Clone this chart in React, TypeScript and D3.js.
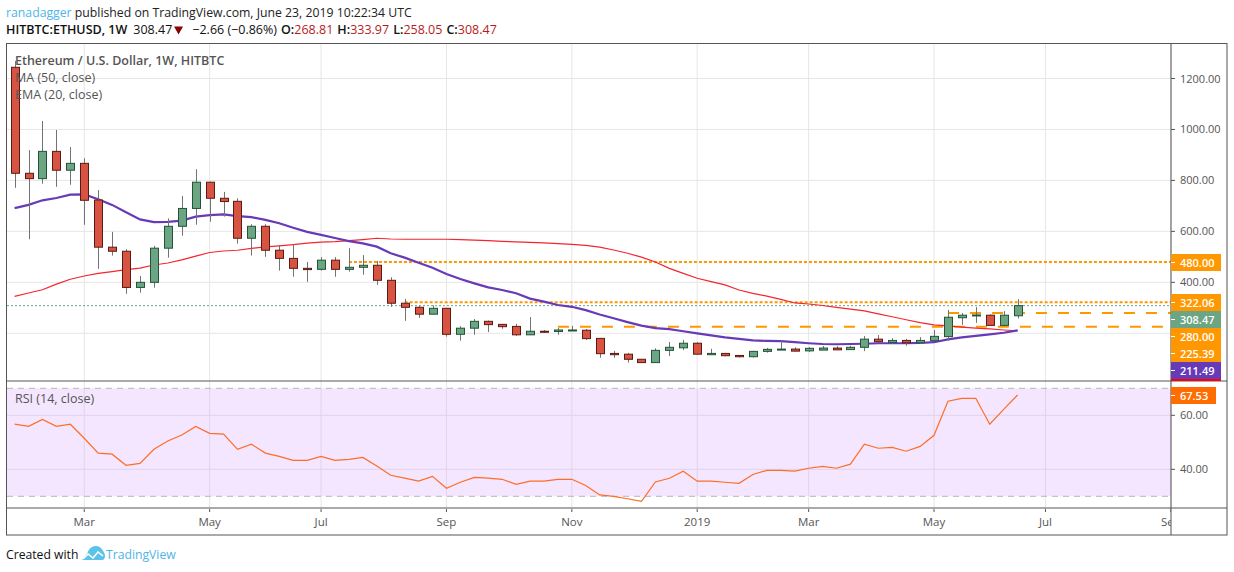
import * as d3 from 'd3';

// weekly candles, index 0 is the week of Jan 29 2018
const opens = [1244,828,807,914,840,867,723,538,522,380,400,534,620,690,793,730,718,573,620,526,494,455,451,487,451,459,467,408,318,302,275,298,196,220,247,235,227,194,208,207,211,212,180,121,118,98,85,133,143,161,116,121,113,108,129,137,138,131,134,142,136,145,177,164,172,163,171,187,261,270,271,231,268.81];
const highs = [1269,919,1033,998,931,887,762,598,530,425,543,651,739,844,795,755,730,628,628,545,549,480,499,499,534,507,484,420,335,308,310,300,228,256,250,237,237,264,213,221,229,217,181,131,123,99,141,166,174,165,139,123,114,131,142,172,145,146,150,149,151,189,193,181,178,185,213,292,280,303,274,287,333.97];
const lows = [771,569,787,775,783,626,453,505,355,359,379,497,583,626,638,658,552,505,500,446,422,402,446,422,442,430,390,304,249,260,274,187,171,194,205,218,190,194,202,194,211,174,104,104,85,84,84,111,134,117,115,110,105,105,124,136,129,126,134,135,135,130,161,158,151,158,170,171,233,241,231,228,258.05];
const closes = [828,807,914,840,867,722,538,522,380,400,534,620,690,793,730,717,573,620,526,494,455,450,487,451,459,467,408,318,302,275,298,196,220,247,234,226,194,208,207,213,213,179,120,116,98,85,133,145,161,118,121,112,108,129,137,138,130,141,142,135,145,177,167,172,163,172,188,263,271,272,231,271,308.47];
const ma50 = [345,358,371,393,412,425,435,442,450,456,468,476,488,503,517,523,526,533,539,543,548,554,558,560,564,568,573,570,569,569,569,569,568,566,564,561,559,557,555,552,549,545,538,527,514,499,480,455,435,416,403,390,370,357,346,333,319,315,309,302,295,288,276,265,253,242,233,229,224,220,217,213,210];
const ema20 = [691,704,722,731,744,745,726,704,675,647,636,637,642,658,664,667,660,656,645,632,614,598,586,574,562,553,540,514,497,477,457,433,413,396,380,370,357,336,324,311,304,291,274,259,244,230,220,216,208,200,192,184,178,172,170,169,165,161,158,157,158,159,161,161,161,162,165,176,184,190,196,202,211.49];
const rsi = [56.7,55.9,58.5,55.9,56.7,51.5,46,45.6,41.5,42.2,47.4,50.5,52.7,55.9,53.3,53,47.4,49.3,46,44.8,43.3,43.3,44.8,43.3,43.7,44.4,41.2,37.8,36.7,35.6,37.4,33,35.2,37,36.7,36.3,34.4,35.6,35.6,36.3,36.3,34,30.5,30,29.1,28.1,35.3,36.7,39.3,35.6,35.6,35.2,34.8,38.1,39.6,39.6,39.3,40.4,41.1,40.4,41.9,49.3,47.8,48.1,46.7,48.5,52.6,65.2,66.3,66.3,56.7,62.2,67.53];

const priceGrid = [1200, 1000, 800, 600, 400, 200];
const priceLabels = [1200, 1000, 800, 600, 400];
const rsiTicks = [60, 40];
const rsiBands = [70, 30];
const timeTicks = ['Mar', 'May', 'Jul', 'Sep', 'Nov', '2019', 'Mar', 'May', 'Jul', 'Sep'];
const timeTickIdx = [5, 14, 22, 31, 40, 49, 57, 66, 74, 83];

const solidLevels = [480, 322.06];
const solidLevelStart = [24, 28];
const longDashLevels = [280, 225.39];
const longDashStart = [67, 39];

const lastPrice = closes[closes.length - 1];

const FONT = '"Open Sans", "Noto Sans", sans-serif';
const LEFT = 7;
const AXIS_X = 1171;
const RIGHT = 1227;

const x = d3.scaleLinear().domain([0, 72]).range([14.6, 1017.6]);
const y = d3.scaleLinear().domain([0, 1200]).range([384.25, 78.5]);
const yRsi = d3.scaleLinear().domain([30, 70]).range([496.3, 388.3]);

const maPath = d3.line<number>().x((_, i) => x(i)).y((d) => y(d))(ma50) as string;
const emaPath = d3.line<number>().x((_, i) => x(i)).y((d) => y(d))(ema20) as string;
const rsiPath = d3.line<number>().x((_, i) => x(i)).y((d) => yRsi(d))(rsi) as string;

const UP = '#6ba583';
const UP_BORDER = '#225437';
const DOWN = '#d75442';
const DOWN_BORDER = '#5b1a13';
const WICK = '#737375';
const ORANGE = '#ff9800';

// stacked price labels on the right scale
const stackedLabels = [
    { text: '480.00', top: 254, fill: ORANGE },
    { text: '322.06', top: 294, fill: ORANGE },
    { text: '308.47', top: 311, fill: UP },
    { text: '280.00', top: 328, fill: ORANGE },
    { text: '225.39', top: 345, fill: ORANGE },
    { text: '211.49', top: 362, fill: '#673ab7' },
];

function App() {
    return (
        <svg
            width={1234}
            height={572}
            style={{ position: 'absolute', left: 0, top: 0, background: '#fff' }}
            fontFamily={FONT}
        >
            <defs>
                <clipPath id="timeClip">
                    <rect x={LEFT} y={509} width={AXIS_X - LEFT} height={26} />
                </clipPath>
            </defs>

            {/* header */}
            <text x={6} y={17} fontSize={12.25} fill="#222">
                <tspan fill="#4db6e8">ranadagger</tspan> published on TradingView.com, June 23, 2019 10:22:34 UTC
            </text>
            <text x={6} y={34} fontSize={12.5} fill="#111">
                <tspan fontWeight={600}>HITBTC:ETHUSD, 1W</tspan>
                <tspan dx={6}>308.47</tspan>
                <tspan dx={20}>−2.66 (−0.86%)</tspan>
                <tspan dx={4} fontWeight={600}>O:</tspan>
                <tspan fill="#b71c1c">268.81</tspan>
                <tspan dx={4} fontWeight={600}>H:</tspan>
                <tspan fill="#b71c1c">333.97</tspan>
                <tspan dx={4} fontWeight={600}>L:</tspan>
                <tspan fill="#b71c1c">258.05</tspan>
                <tspan dx={4} fontWeight={600}>C:</tspan>
                <tspan fill="#b71c1c">308.47</tspan>
            </text>
            <path d="M174,26.5h9l-4.5,8z" fill="#8b0000" />

            {/* rsi background */}
            <rect x={LEFT} y={yRsi(70)} width={AXIS_X - LEFT} height={yRsi(30) - yRsi(70)} fill="#f4e6fe" />

            {/* grid */}
            {priceGrid.map((t) => (
                <line key={t} x1={LEFT} x2={AXIS_X} y1={y(t)} y2={y(t)} stroke="#e6e6e6" strokeWidth={1} />
            ))}
            {timeTickIdx.map((t, i) => (
                <g key={i}>
                    <line x1={x(t)} x2={x(t)} y1={43} y2={381} stroke="#e6e6e6" />
                    <line x1={x(t)} x2={x(t)} y1={381} y2={388} stroke="#e6e6e6" />
                    <line x1={x(t)} x2={x(t)} y1={yRsi(70)} y2={yRsi(30)} stroke="#e0d3ea" />
                    <line x1={x(t)} x2={x(t)} y1={yRsi(30)} y2={508} stroke="#e6e6e6" />
                </g>
            ))}
            {rsiTicks.map((t) => (
                <line key={t} x1={LEFT} x2={AXIS_X} y1={yRsi(t)} y2={yRsi(t)} stroke="#e0d3ea" />
            ))}
            {rsiBands.map((t) => (
                <line key={t} x1={LEFT} x2={AXIS_X} y1={yRsi(t)} y2={yRsi(t)} stroke="#b9b3bd" strokeDasharray="6 5" />
            ))}

            {/* last price line */}
            <line
                x1={LEFT}
                x2={AXIS_X}
                y1={y(lastPrice)}
                y2={y(lastPrice)}
                stroke={UP}
                strokeDasharray="2 2"
            />

            {/* horizontal levels */}
            {solidLevels.map((lv, i) => (
                <line
                    key={lv}
                    x1={x(solidLevelStart[i])}
                    x2={AXIS_X}
                    y1={y(lv)}
                    y2={y(lv)}
                    stroke={ORANGE}
                    strokeWidth={2}
                    strokeDasharray="3 2"
                />
            ))}
            {longDashLevels.map((lv, i) => (
                <line
                    key={lv}
                    x1={x(longDashStart[i])}
                    x2={AXIS_X}
                    y1={y(lv)}
                    y2={y(lv)}
                    stroke={ORANGE}
                    strokeWidth={2}
                    strokeDasharray="11 11"
                />
            ))}

            {/* moving averages */}
            <path d={maPath} fill="none" stroke="#f5252e" strokeWidth={1.2} />
            <path d={emaPath} fill="none" stroke="#673ab7" strokeWidth={2.2} />

            {/* candles */}
            {closes.map((c, i) => {
                const up = c >= opens[i];
                const cx = Math.round(x(i));
                const top = y(Math.max(opens[i], c));
                const bottom = y(Math.min(opens[i], c));
                return (
                    <g key={i}>
                        <line x1={cx + 0.5} x2={cx + 0.5} y1={y(highs[i])} y2={y(lows[i])} stroke={WICK} />
                        <rect
                            x={cx - 3.5}
                            y={top}
                            width={8}
                            height={Math.max(bottom - top, 1)}
                            fill={up ? UP : DOWN}
                            stroke={up ? UP_BORDER : DOWN_BORDER}
                            strokeWidth={1}
                        />
                    </g>
                );
            })}

            {/* chart legends */}
            <text x={15} y={65} fontSize={12.5} fill="#555" fontWeight={600}>
                Ethereum / U.S. Dollar, 1W, HITBTC
            </text>
            <text x={15} y={82} fontSize={12.5} fill="#555">MA (50, close)</text>
            <text x={15} y={99} fontSize={12.5} fill="#555">EMA (20, close)</text>
            <text x={15} y={403} fontSize={12.5} fill="#555">RSI (14, close)</text>

            {/* rsi line */}
            <path d={rsiPath} fill="none" stroke="#ff6d24" strokeWidth={1.2} />

            {/* frame */}
            <rect x={6.5} y={43.5} width={RIGHT - 6.5} height={535 - 43.5} fill="none" stroke="#555" />
            <line x1={6.5} x2={RIGHT} y1={381} y2={381} stroke="#555" />
            <line x1={6.5} x2={RIGHT} y1={508} y2={508} stroke="#555" />
            <line x1={AXIS_X} x2={AXIS_X} y1={43.5} y2={535} stroke="#555" />

            {/* right scale */}
            <g fontSize={11} fill="#555">
                {priceLabels.map((t) => (
                    <g key={t}>
                        <line x1={AXIS_X} x2={AXIS_X + 4} y1={y(t)} y2={y(t)} stroke="#555" />
                        <text x={AXIS_X + 9} y={y(t) + 4}>{t.toFixed(2)}</text>
                    </g>
                ))}
                {rsiTicks.map((t) => (
                    <g key={t}>
                        <line x1={AXIS_X} x2={AXIS_X + 4} y1={yRsi(t)} y2={yRsi(t)} stroke="#555" />
                        <text x={AXIS_X + 9} y={yRsi(t) + 4}>{t.toFixed(2)}</text>
                    </g>
                ))}
            </g>
            {stackedLabels.map((l) => (
                <g key={l.text}>
                    <rect x={AXIS_X} y={l.top} width={50} height={17} fill={l.fill} />
                    <line x1={AXIS_X} x2={AXIS_X + 4} y1={l.top + 8.5} y2={l.top + 8.5} stroke="#fff" />
                    <text x={AXIS_X + 9} y={l.top + 12.5} fontSize={11} fontWeight={600} fill="#fff">
                        {l.text}
                    </text>
                </g>
            ))}
            <rect x={AXIS_X} y={379} width={50} height={2} fill="#f00" />
            <rect x={AXIS_X} y={387} width={45} height={17} fill="#ff6d00" />
            <line x1={AXIS_X} x2={AXIS_X + 4} y1={395.5} y2={395.5} stroke="#fff" />
            <text x={AXIS_X + 9} y={399.5} fontSize={11} fontWeight={600} fill="#fff">
                {rsi[rsi.length - 1].toFixed(2)}
            </text>

            {/* time scale */}
            <g clipPath="url(#timeClip)">
                {timeTickIdx.map((t, i) => (
                    <g key={i}>
                        <line x1={x(t)} x2={x(t)} y1={508} y2={512} stroke="#555" />
                        <text x={x(t)} y={526} fontSize={11.5} fill="#555" textAnchor="middle">
                            {timeTicks[i]}
                        </text>
                    </g>
                ))}
            </g>

            {/* footer */}
            <text x={6} y={559} fontSize={12.2} fill="#111">Created with</text>
            <path
                d="M82,560l6-8c1-4,5-6,8-6s6,2,7,5c1,1,2,3,2,5s-1,4-3,4z"
                fill="#5bc3e8"
            />
            <path d="M83,559l5-5 5,4 5-6 5,4" fill="none" stroke="#fff" strokeWidth={1.6} />
            <text x={106} y={559} fontSize={12.2} fill="#4db6e8">TradingView</text>
        </svg>
    );
}

export default App;
